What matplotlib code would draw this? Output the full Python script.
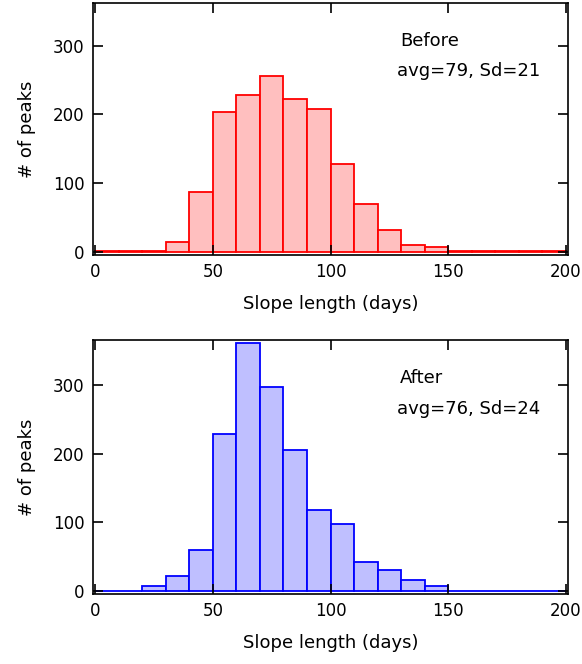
import numpy as np
import matplotlib.pyplot as plt

bin_left = np.arange(0, 200, 10)
before = [1, 1, 1, 14, 87, 203, 228, 256, 222, 208, 127, 70, 31, 9, 7, 1, 1, 1, 1, 1]
after = [1, 1, 8, 22, 60, 228, 361, 297, 205, 118, 98, 43, 31, 16, 7, 1, 1, 1, 1, 1]

fig = plt.figure(figsize=(5.82, 6.64), dpi=100)
W, H = 582, 664


def make_axes(top, bottom):
    return fig.add_axes([93 / W, 1 - bottom / H, (568 - 93) / W, (bottom - top) / H])


panels = [
    (make_axes(3, 255), before, '#ff0000', '#ffbfbf', 'Before', 'avg=79, Sd=21', (-5, 362)),
    (make_axes(340, 594), after, '#0000ff', '#bfbfff', 'After', 'avg=76, Sd=24', (-4, 365)),
]

for ax, counts, edge, fill, name, stats, ylim in panels:
    ax.bar(bin_left, counts, width=10, align='edge', color=fill, edgecolor=edge, linewidth=1.3)
    ax.set_xlim(-1, 201)
    ax.set_ylim(*ylim)
    ax.set_xticks([0, 50, 100, 150, 200])
    ax.set_yticks([0, 100, 200, 300])
    ax.tick_params(direction='in', top=True, right=True, length=7, width=1.2, labelsize=12, pad=6)
    for s in ax.spines.values():
        s.set_linewidth(1.2)
    ax.set_xlabel('Slope length (days)', fontsize=13, labelpad=10)
    ax.set_ylabel('# of peaks', fontsize=13, labelpad=12)
    ax.text(0.647, 0.83, name, transform=ax.transAxes, fontsize=13)
    ax.text(0.64, 0.71, stats, transform=ax.transAxes, fontsize=13)

fig.savefig('out.png', dpi=100)
